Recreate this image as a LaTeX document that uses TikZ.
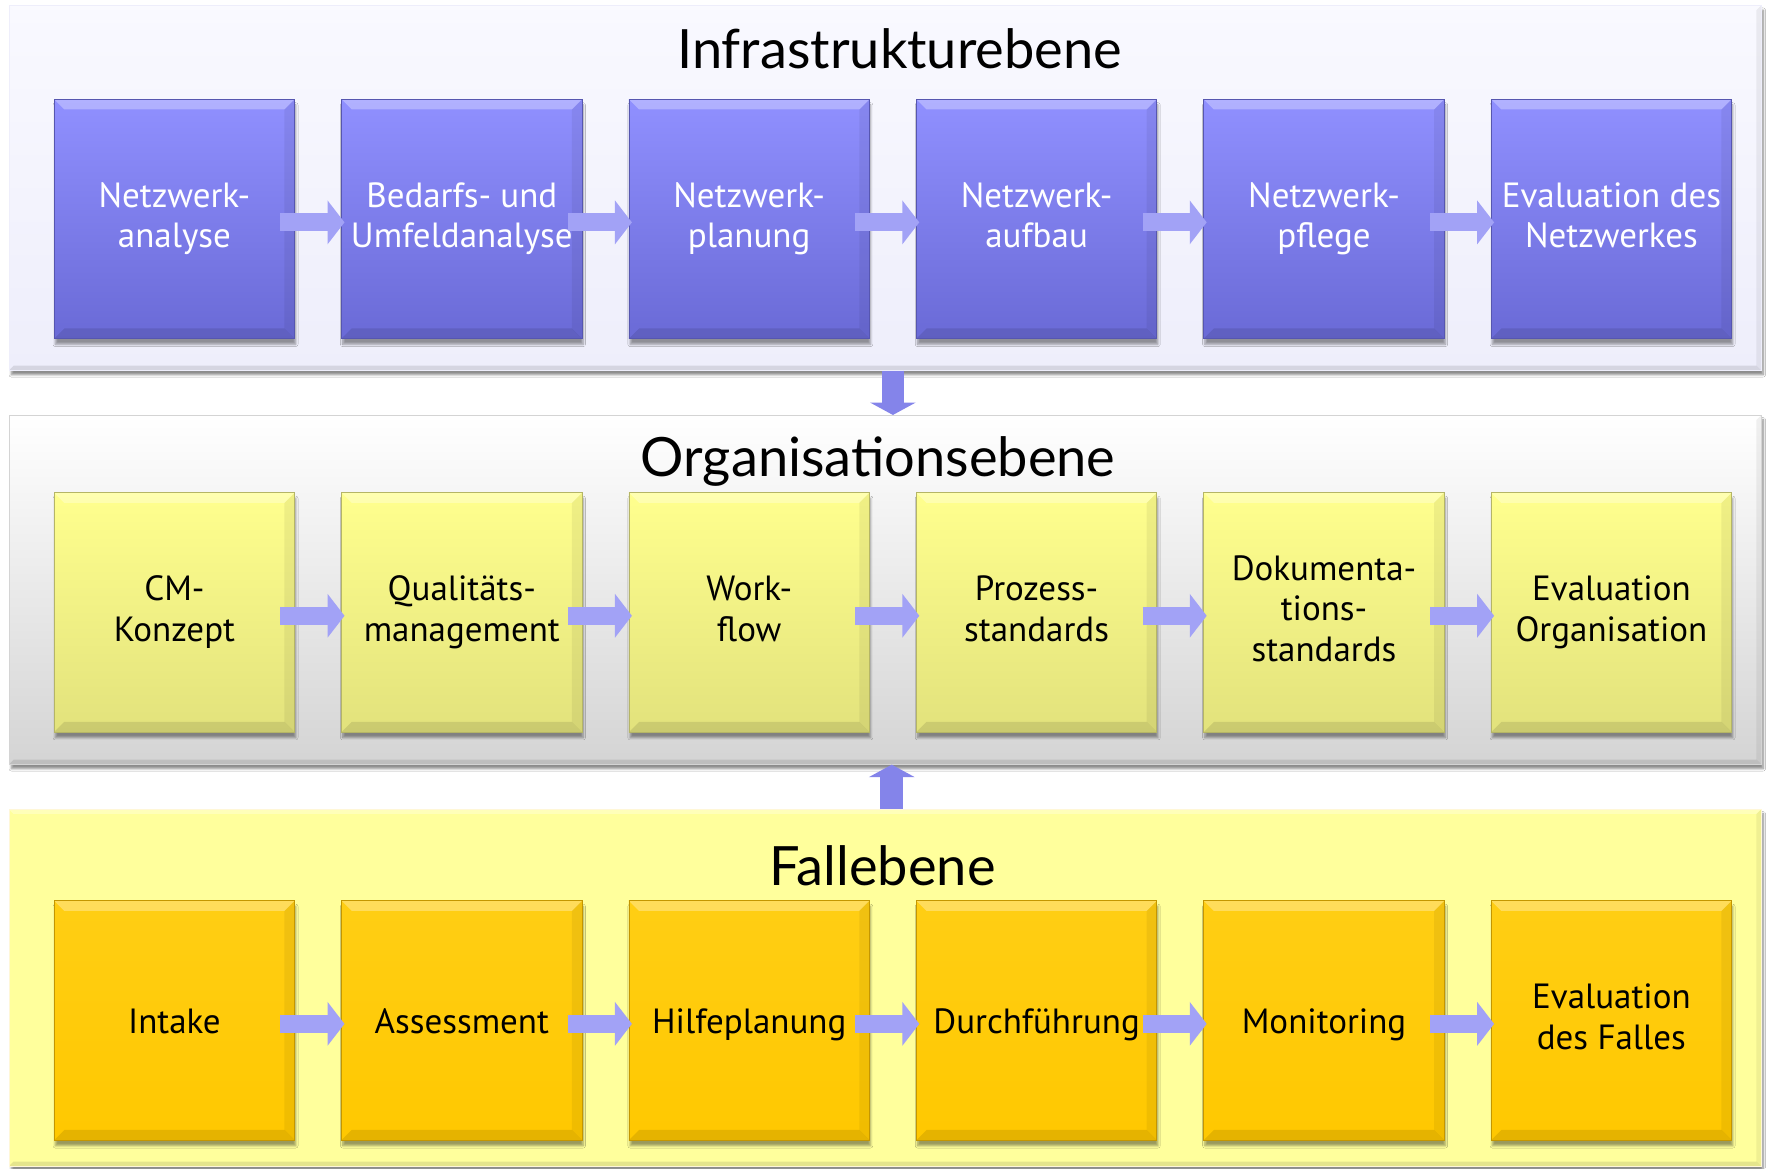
\documentclass[tikz,border=0pt]{standalone}
\usepackage{fontspec}
\setmainfont{PT Sans}
\newfontfamily\titlefont{Lato}
\usetikzlibrary{shadows.blur,arrows.meta,calc}

\definecolor{blueTop}{HTML}{9090FF}
\definecolor{blueBot}{HTML}{6A6AD6}
\definecolor{blueEdge}{HTML}{5656B0}
\definecolor{lemTop}{HTML}{FFFF8E}
\definecolor{lemBot}{HTML}{E2E27C}
\definecolor{lemEdge}{HTML}{B5B566}
\definecolor{goldTop}{HTML}{FFCE14}
\definecolor{goldBot}{HTML}{FFC800}
\definecolor{goldEdge}{HTML}{C49600}
\definecolor{arrowBlue}{HTML}{A2A2F6}
\definecolor{arrowDark}{HTML}{8484EA}
\definecolor{panelA}{HTML}{F9F9FF}
\definecolor{panelAb}{HTML}{EEEEFB}
\definecolor{panelBb}{HTML}{D4D4D4}
\definecolor{panelC}{HTML}{FFFF9C}

% invisible strut that fixes the height and depth of each text line in a box
\newcommand\linestrut{\vrule height 29.2pt depth 6.8pt width 0pt}

\tikzset{
  x=1pt, y=-1pt,
  bevel/.style={path picture={
    \fill[white,opacity=.30] (path picture bounding box.north west) -- (path picture bounding box.north east)
      -- ([xshift=-#1,yshift=-#1]path picture bounding box.north east) -- ([xshift=#1,yshift=-#1]path picture bounding box.north west) -- cycle;
    \fill[black,opacity=.10] (path picture bounding box.south west) -- (path picture bounding box.south east)
      -- ([xshift=-#1,yshift=#1]path picture bounding box.south east) -- ([xshift=#1,yshift=#1]path picture bounding box.south west) -- cycle;
    \fill[black,opacity=.06] (path picture bounding box.north east) -- (path picture bounding box.south east)
      -- ([xshift=-#1,yshift=#1]path picture bounding box.south east) -- ([xshift=-#1,yshift=-#1]path picture bounding box.north east) -- cycle;
  }},
  panel/.style={minimum width=1552pt, inner sep=0pt, draw=#1, line width=0.8pt, bevel=4pt,
    blur shadow={shadow xshift=2pt, shadow yshift=-4pt, shadow blur steps=6, shadow opacity=45}},
  stagebox/.style={minimum width=213pt, minimum height=212pt, inner sep=0pt, align=center,
    font=\fontsize{31}{36}\selectfont, line width=0.8pt, bevel=9pt,
    execute at begin node=\linestrut, execute at end node=\linestrut,
    blur shadow={shadow xshift=1pt, shadow yshift=-5pt, shadow blur steps=6, shadow opacity=40}},
  infrabox/.style={stagebox, top color=blueTop, bottom color=blueBot, draw=blueEdge, text=white},
  orgbox/.style={stagebox, top color=lemTop, bottom color=lemBot, draw=lemEdge, text=black},
  casebox/.style={stagebox, top color=goldTop, bottom color=goldBot, draw=goldEdge, text=black},
  leveltitle/.style={anchor=base, inner sep=0pt, font=\titlefont\fontsize{48}{50}\selectfont},
  hflow/.style={line width=16pt, draw=arrowBlue, -{Triangle[length=15pt,width=38pt,fill=arrowBlue]},
    shorten <=-13pt, shorten >=-3pt},
  vflow/.style={line width=20pt, draw=arrowDark, -{Triangle[length=11pt,width=40pt,fill=arrowDark]}},
}

\begin{document}
\begin{tikzpicture}
\useasboundingbox (0,0) rectangle (1568,1035);
\fill[white] (0,0) rectangle (1568,1035);

% the three levels
\node[panel=panelAb, top color=panelA, bottom color=panelAb, minimum height=323pt] (P1) at (784,166.5) {};
\node[panel=panelBb, top color=white, bottom color=panelBb, minimum height=309pt] (P2) at (784,522.5) {};
\node[panel=panelC!80!orange!30!white, fill=panelC, minimum height=316pt] (P3) at (784,875) {};

\node[leveltitle] (T1) at (797,61) {Infrastrukturebene};
\node[leveltitle] (T2) at (778,422) {Organisationsebene};
\node[leveltitle] (T3) at (782,784) {Fallebene};

% infrastructure level
\node[infrabox] (i1) at (154.5,194) {Netzwerk-\\analyse};
\node[infrabox] (i2) at (409.1,194) {Bedarfs- und\\Umfeldanalyse};
\node[infrabox] (i3) at (663.7,194) {Netzwerk-\\planung};
\node[infrabox] (i4) at (918.3,194) {Netzwerk-\\aufbau};
\node[infrabox] (i5) at (1172.9,194) {Netzwerk-\\pflege};
\node[infrabox] (i6) at (1427.5,194) {Evaluation des\\Netzwerkes};

% organisation level
\node[orgbox] (o1) at (154.5,542.5) {CM-\\Konzept};
\node[orgbox] (o2) at (409.1,542.5) {Qualitäts-\\management};
\node[orgbox] (o3) at (663.7,542.5) {Work-\\flow};
\node[orgbox] (o4) at (918.3,542.5) {Prozess-\\standards};
\node[orgbox] (o5) at (1172.9,542.5) {Dokumenta-\\tions-\\standards};
\node[orgbox] (o6) at (1427.5,542.5) {Evaluation\\Organisation};

% case level
\node[casebox] (c1) at (154.5,904) {Intake};
\node[casebox] (c2) at (409.1,904) {Assessment};
\node[casebox] (c3) at (663.7,904) {Hilfeplanung};
\node[casebox] (c4) at (918.3,904) {Durchführung};
\node[casebox] (c5) at (1172.9,904) {Monitoring};
\node[casebox] (c6) at (1427.5,904) {Evaluation\\des Falles};

% flow inside each level
\foreach \r in {i,o,c}{
  \foreach \a/\b in {1/2,2/3,3/4,4/5,5/6}{
    \draw[hflow] ([yshift=-3pt]\r\a.east) -- ([yshift=-3pt]\r\b.west);
  }
}

% flow between levels
\draw[vflow] ([xshift=7pt]P1.south) -- ([xshift=7pt]P2.north);
\draw[vflow] ([xshift=6pt]P3.north) -- ([xshift=6pt]P2.south);
\end{tikzpicture}
\end{document}
